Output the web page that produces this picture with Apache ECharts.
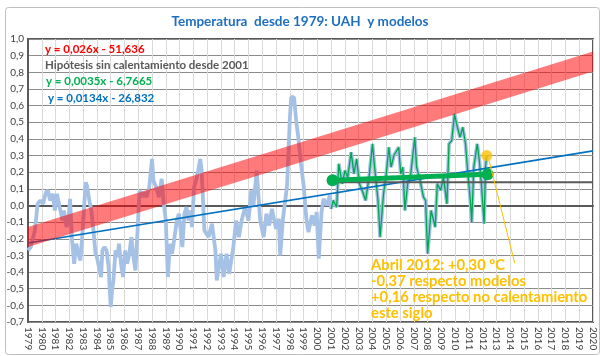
<!DOCTYPE html>
<html>
<head>
<meta charset="utf-8">
<script src="https://cdn.jsdelivr.net/npm/echarts@6/dist/echarts.min.js"></script>
<style>html,body{margin:0;padding:0;background:#fff;}#c{width:600px;height:356px;}</style>
</head>
<body>
<div id="c"></div>
<script>
// ---- data ----
var uahT = [1979.0,1979.2,1979.35,1979.5,1979.7,1979.9,1980.1,1980.3,1980.45,1980.6,1980.8,1980.95,1981.1,1981.3,1981.5,1981.6,1981.8,1981.95,1982.05,1982.2,1982.35,1982.5,1982.65,1982.8,1982.95,1983.1,1983.2,1983.3,1983.45,1983.6,1983.75,1983.9,1984.0,1984.15,1984.3,1984.4,1984.55,1984.7,1984.85,1985.0,1985.1,1985.2,1985.35,1985.5,1985.6,1985.75,1985.9,1986.05,1986.2,1986.35,1986.5,1986.65,1986.8,1986.9,1987.0,1987.1,1987.25,1987.4,1987.6,1987.8,1988.0,1988.1,1988.3,1988.5,1988.7,1988.85,1989.0,1989.15,1989.3,1989.45,1989.6,1989.8,1989.95,1990.1,1990.2,1990.35,1990.5,1990.65,1990.8,1990.9,1991.05,1991.2,1991.35,1991.5,1991.6,1991.8,1992.1,1992.35,1992.6,1992.7,1993.0,1993.2,1993.4,1993.6,1993.9,1994.1,1994.3,1994.5,1994.75,1995.0,1995.2,1995.35,1995.6,1995.85,1996.1,1996.3,1996.5,1996.7,1997.0,1997.2,1997.3,1997.5,1997.8,1998.0,1998.1,1998.3,1998.5,1998.6,1998.8,1999.0,1999.2,1999.35,1999.6,1999.8,1999.95,2000.1,2000.3,2000.45,2000.7,2000.9,2001.0,2001.15,2001.4,2001.55,2001.8,2002.0,2002.2,2002.45,2002.65,2002.85,2003.05,2003.25,2003.5,2003.75,2004.0,2004.15,2004.4,2004.55,2004.8,2005.0,2005.18,2005.35,2005.55,2005.9,2006.05,2006.2,2006.35,2006.55,2006.75,2007.07,2007.2,2007.45,2007.7,2007.85,2008.0,2008.25,2008.55,2008.7,2008.95,2009.15,2009.4,2009.55,2009.75,2009.95,2010.1,2010.35,2010.55,2010.75,2010.9,2011.1,2011.2,2011.35,2011.6,2011.75,2011.9,2012.1,2012.2,2012.29];
var uahV = [-0.27,-0.25,-0.2,-0.15,0.01,0.03,0.01,0.08,0.09,0.03,0.07,-0.03,0.07,-0.01,-0.09,-0.03,-0.13,-0.07,0.04,-0.21,-0.35,-0.23,-0.29,-0.33,-0.17,0.03,0.14,0.11,0.03,-0.03,-0.15,-0.29,-0.31,-0.37,-0.43,-0.27,-0.25,-0.27,-0.37,-0.61,-0.51,-0.45,-0.27,-0.31,-0.23,-0.35,-0.43,-0.27,-0.35,-0.29,-0.19,-0.31,-0.39,-0.23,-0.07,0.09,0.05,0.08,0.05,0.11,0.28,0.15,0.11,0.05,0.16,0.01,-0.09,-0.43,-0.23,-0.29,-0.21,-0.09,-0.05,-0.17,-0.25,-0.05,-0.01,-0.09,-0.03,-0.13,0.11,0.15,0.21,0.28,0.21,-0.15,-0.19,-0.11,-0.27,-0.45,-0.29,-0.43,-0.29,-0.41,-0.25,-0.09,-0.19,-0.09,-0.01,-0.09,0.09,-0.01,0.21,-0.09,-0.19,-0.05,-0.12,-0.02,-0.14,-0.08,-0.30,-0.08,0.12,0.52,0.65,0.65,0.48,0.42,0.26,0.12,-0.08,-0.16,-0.06,-0.12,-0.04,-0.32,-0.04,0.04,0.0,0.06,-0.02,0.03,-0.01,0.25,0.13,0.21,0.17,0.32,0.19,0.28,0.13,0.09,0.03,0.17,0.37,0.23,0.03,-0.19,0.07,0.19,0.35,0.23,0.30,0.35,0.19,0.23,-0.03,0.13,0.17,0.41,0.23,0.15,0.05,0.03,-0.29,-0.03,-0.13,0.13,0.09,0.17,0.01,0.37,0.39,0.55,0.49,0.41,0.47,0.37,0.21,0.03,-0.10,0.23,0.37,0.27,0.13,-0.11,0.23,0.30];
var greenStart = 2001;
var blueTrendT = [1979, 2020], blueTrendV = [-0.225, 0.328];
var modelT = [1979, 2020], modelLow = [-0.25, 0.805], modelHigh = [-0.13, 0.925];
var flatT = [2001, 2020], flatV = [0.14, 0.14];
var greenTrendT = [2001.1, 2012.35], greenTrendV = [0.152, 0.188];
var lastT = [2012.29], lastV = [0.30];
var leaderT = [2012.45, 2014.32], leaderV = [0.272, -0.347];
var xMin = 1979, xMax = 2020, yMin = -0.7, yMax = 1.0;

function pairs(a, b) { return a.map(function (t, i) { return [t, b[i]]; }); }
var uahAll = pairs(uahT, uahV);
var uahGreen = uahAll.filter(function (p) { return p[0] >= greenStart; });
var bandData = modelT.map(function (t, i) { return [t, modelLow[i], modelHigh[i]]; });

var chart = echarts.init(document.getElementById('c'), null, { renderer: 'canvas' });
var F = 'Lato, "Open Sans", sans-serif';
chart.setOption({
  animation: false,
  backgroundColor: '#fff',
  title: {
    text: 'Temperatura  desde 1979: UAH  y modelos',
    left: 'center', top: 10,
    textStyle: { fontFamily: F, fontWeight: 'bold', fontSize: 13.5, color: '#1F6FBF' }
  },
  grid: { left: 28, right: 7, top: 39, bottom: 34, show: true, borderColor: '#595959', borderWidth: 2, backgroundColor: 'transparent' },
  xAxis: {
    type: 'value', min: xMin, max: xMax, interval: 1,
    axisLine: { show: true, lineStyle: { color: '#595959', width: 2 } },
    axisTick: { show: false },
    axisLabel: { rotate: -90, fontFamily: F, fontSize: 10, color: '#404040', margin: 5, formatter: function (v) { return String(Math.round(v)); } },
    splitLine: { show: true, lineStyle: { color: '#D9D9D9', width: 1 } }
  },
  yAxis: {
    type: 'value', min: yMin, max: yMax, interval: 0.1,
    axisLine: { show: true, lineStyle: { color: '#595959', width: 2 } },
    axisTick: { show: false },
    axisLabel: { fontFamily: F, fontSize: 10, color: '#404040', margin: 4, formatter: function (v) { if (Math.abs(v) < 1e-9) return '0,0'; return v.toFixed(1).replace('.', ','); } },
    splitLine: { show: true, lineStyle: { color: '#8C8C8C', width: 1 } }
  },
  series: [
    { type: 'line', data: uahAll, showSymbol: false, z: 2, lineStyle: { color: '#A6C1E6', width: 3.8 } },
    { type: 'line', data: uahGreen, showSymbol: false, z: 3, lineStyle: { color: '#00A651', width: 1.3 } },
    { type: 'line', data: pairs(blueTrendT, blueTrendV), showSymbol: false, z: 4, lineStyle: { color: '#0070C0', width: 1.6 } },
    { type: 'line', data: pairs(flatT, flatV), showSymbol: false, z: 4, lineStyle: { color: '#595959', width: 2 } },
    { type: 'line', data: pairs(greenTrendT, greenTrendV), symbol: 'circle', symbolSize: 12, showSymbol: true, z: 5,
      itemStyle: { color: '#00B050' }, lineStyle: { color: '#00B050', width: 5 } },
    { type: 'custom', z: 6, data: bandData, clip: true,
      renderItem: function (params, api) {
        if (params.dataIndex !== 0) return null;
        var pts = [];
        for (var i = 0; i < bandData.length; i++) pts.push(api.coord([bandData[i][0], bandData[i][2]]));
        for (var j = bandData.length - 1; j >= 0; j--) pts.push(api.coord([bandData[j][0], bandData[j][1]]));
        return { type: 'polygon', shape: { points: pts }, style: { fill: 'rgba(255,0,0,0.52)' } };
      }
    },
    { type: 'line', data: pairs(leaderT, leaderV), showSymbol: false, z: 7, lineStyle: { color: '#FFC000', width: 1 } },
    { type: 'scatter', data: pairs(lastT, lastV), symbolSize: 11, z: 8, itemStyle: { color: '#FFC000' } }
  ],
  graphic: [
    { type: 'rect', left: 3, top: 5, shape: { width: 594, height: 347, r: 3 }, style: { fill: 'none', stroke: '#BFBFBF', lineWidth: 1 }, z: 100 },
    { type: 'text', left: 45, top: 43, style: { text: 'y = 0,026x - 51,636', font: 'bold 11.5px ' + F, fill: '#FF0000' }, z: 100 },
    { type: 'text', left: 45, top: 59, style: { text: 'Hipótesis sin calentamiento desde 2001', font: 'bold 11.5px ' + F, fill: '#595959' }, z: 100 },
    { type: 'text', left: 46, top: 75, style: { text: 'y = 0,0035x - 6,7665', font: 'bold 11.5px ' + F, fill: '#00B050' }, z: 100 },
    { type: 'text', left: 48, top: 92, style: { text: 'y = 0,0134x - 26,832', font: 'bold 11.5px ' + F, fill: '#0070C0' }, z: 100 },
    { type: 'text', left: 371, top: 257, style: { text: 'Abril 2012: +0,30 ºC\n-0,37 respecto modelos\n+0,16 respecto no calentamiento\neste siglo', font: 'bold 14.8px ' + F, fill: '#FFC000', lineHeight: 16 }, z: 100 }
  ]
});
</script>
</body>
</html>
